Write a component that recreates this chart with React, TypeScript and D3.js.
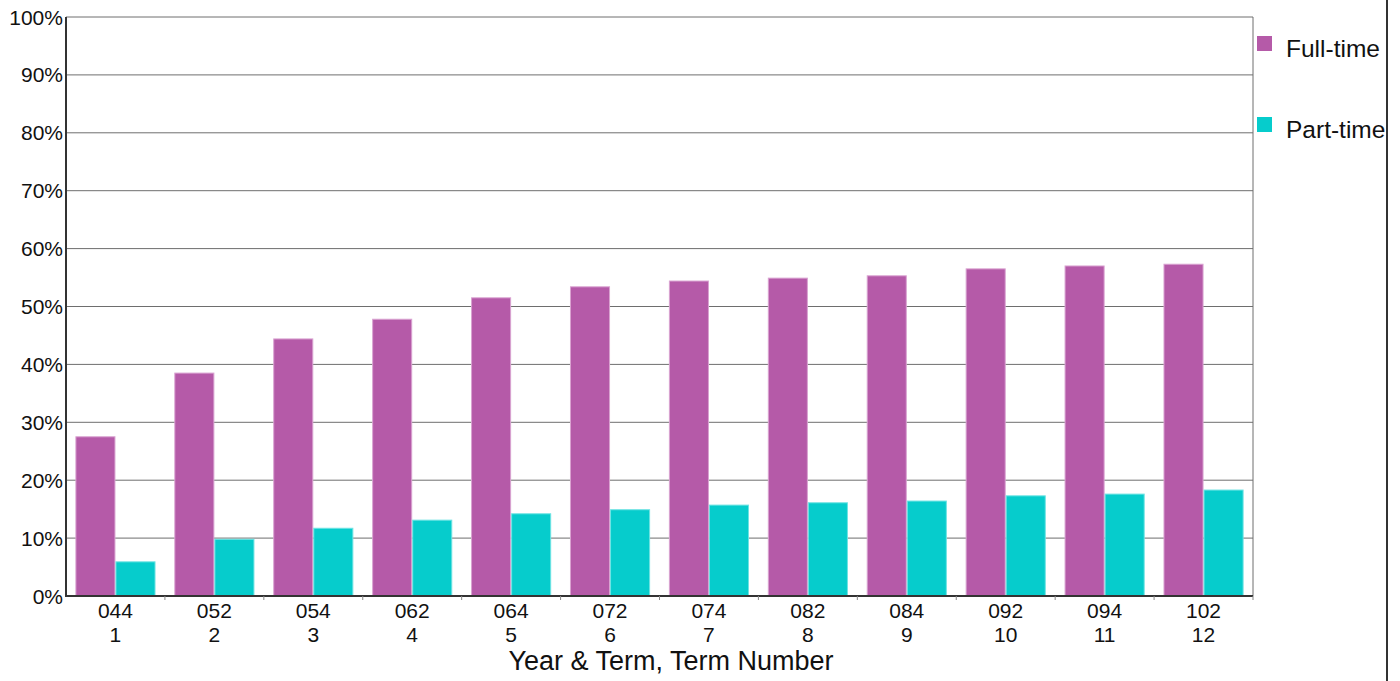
import React from "react";
import * as d3 from "d3";

const terms = ["044", "052", "054", "062", "064", "072", "074", "082", "084", "092", "094", "102"];
const termNumbers = ["1", "2", "3", "4", "5", "6", "7", "8", "9", "10", "11", "12"];
const fullTime = [27.5, 38.5, 44.4, 47.8, 51.5, 53.4, 54.4, 54.9, 55.3, 56.5, 57.0, 57.3];
const partTime = [5.9, 9.8, 11.7, 13.1, 14.2, 14.9, 15.7, 16.1, 16.4, 17.3, 17.6, 18.3];
const seriesNames = ["Full-time", "Part-time"];
const seriesColors = ["#b55aa8", "#06cccc"];
const seriesStrokes = ["#d9a3d1", "#6ee3e3"];
const yTicks = [0, 10, 20, 30, 40, 50, 60, 70, 80, 90, 100];

const W = 1400;
const H = 681;
const left = 66;
const right = 1253;
const top = 17;
const bottom = 596;
const FONT = "'Liberation Sans', Arial, sans-serif";

export default function App() {
  const x = d3.scaleBand<string>().domain(terms).range([left, right]).paddingInner(0.19).paddingOuter(0.095);
  const x1 = d3.scaleBand<string>().domain(seriesNames).range([0, x.bandwidth()]).padding(0);
  const y = d3.scaleLinear().domain([0, 100]).range([bottom, top]);
  const step = x.step();
  const series = [fullTime, partTime];

  return (
    <svg width={W} height={H} style={{ position: "absolute", left: 0, top: 0 }} fontFamily={FONT}>
      <rect x={0} y={0} width={W} height={H} fill="#fff" />
      {yTicks.map((t) => (
        <line key={"g" + t} x1={left} x2={right} y1={y(t)} y2={y(t)} stroke="#6e6e6e" strokeWidth={1} />
      ))}
      <line x1={right} x2={right} y1={top} y2={bottom} stroke="#6e6e6e" strokeWidth={1} />
      {terms.map((term, i) => (
        <g key={term} transform={`translate(${x(term)},0)`}>
          {series.map((vals, s) => (
            <rect
              key={s}
              x={(x1(seriesNames[s]) as number) + 0.5}
              y={y(vals[i])}
              width={x1.bandwidth() - 1}
              height={bottom - y(vals[i])}
              fill={seriesColors[s]}
              stroke={seriesStrokes[s]}
              strokeWidth={1}
            />
          ))}
        </g>
      ))}
      <line x1={left} x2={left} y1={top} y2={bottom + 1} stroke="#333" strokeWidth={2} />
      <line x1={left} x2={right} y1={bottom} y2={bottom} stroke="#333" strokeWidth={2} />
      {terms.map((t, i) => (
        <line key={"tk" + i} x1={left + step * (i + 1)} x2={left + step * (i + 1)} y1={bottom} y2={bottom + 4} stroke="#888" strokeWidth={1} />
      ))}
      {yTicks.map((t) => (
        <text key={"yl" + t} x={63} y={y(t)} dy="0.36em" textAnchor="end" fontSize={21} fill="#111">
          {t}%
        </text>
      ))}
      {terms.map((t, i) => {
        const cx = (x(t) as number) + x.bandwidth() / 2;
        return (
          <g key={"xl" + t}>
            <text x={cx} y={618} textAnchor="middle" fontSize={21} fill="#111">{t}</text>
            <text x={cx} y={642} textAnchor="middle" fontSize={21} fill="#111">{termNumbers[i]}</text>
          </g>
        );
      })}
      <text x={671} y={670} textAnchor="middle" fontSize={27} fill="#111">Year &amp; Term, Term Number</text>
      {seriesNames.map((n, s) => (
        <g key={"lg" + n}>
          <rect x={1257} y={36 + s * 81} width={15} height={15} fill={seriesColors[s]} />
          <text x={1286} y={57 + s * 81} fontSize={24.5} fill="#111">{n}</text>
        </g>
      ))}
      <line x1={1387} x2={1387} y1={0} y2={H} stroke="#333" strokeWidth={2} />
    </svg>
  );
}
